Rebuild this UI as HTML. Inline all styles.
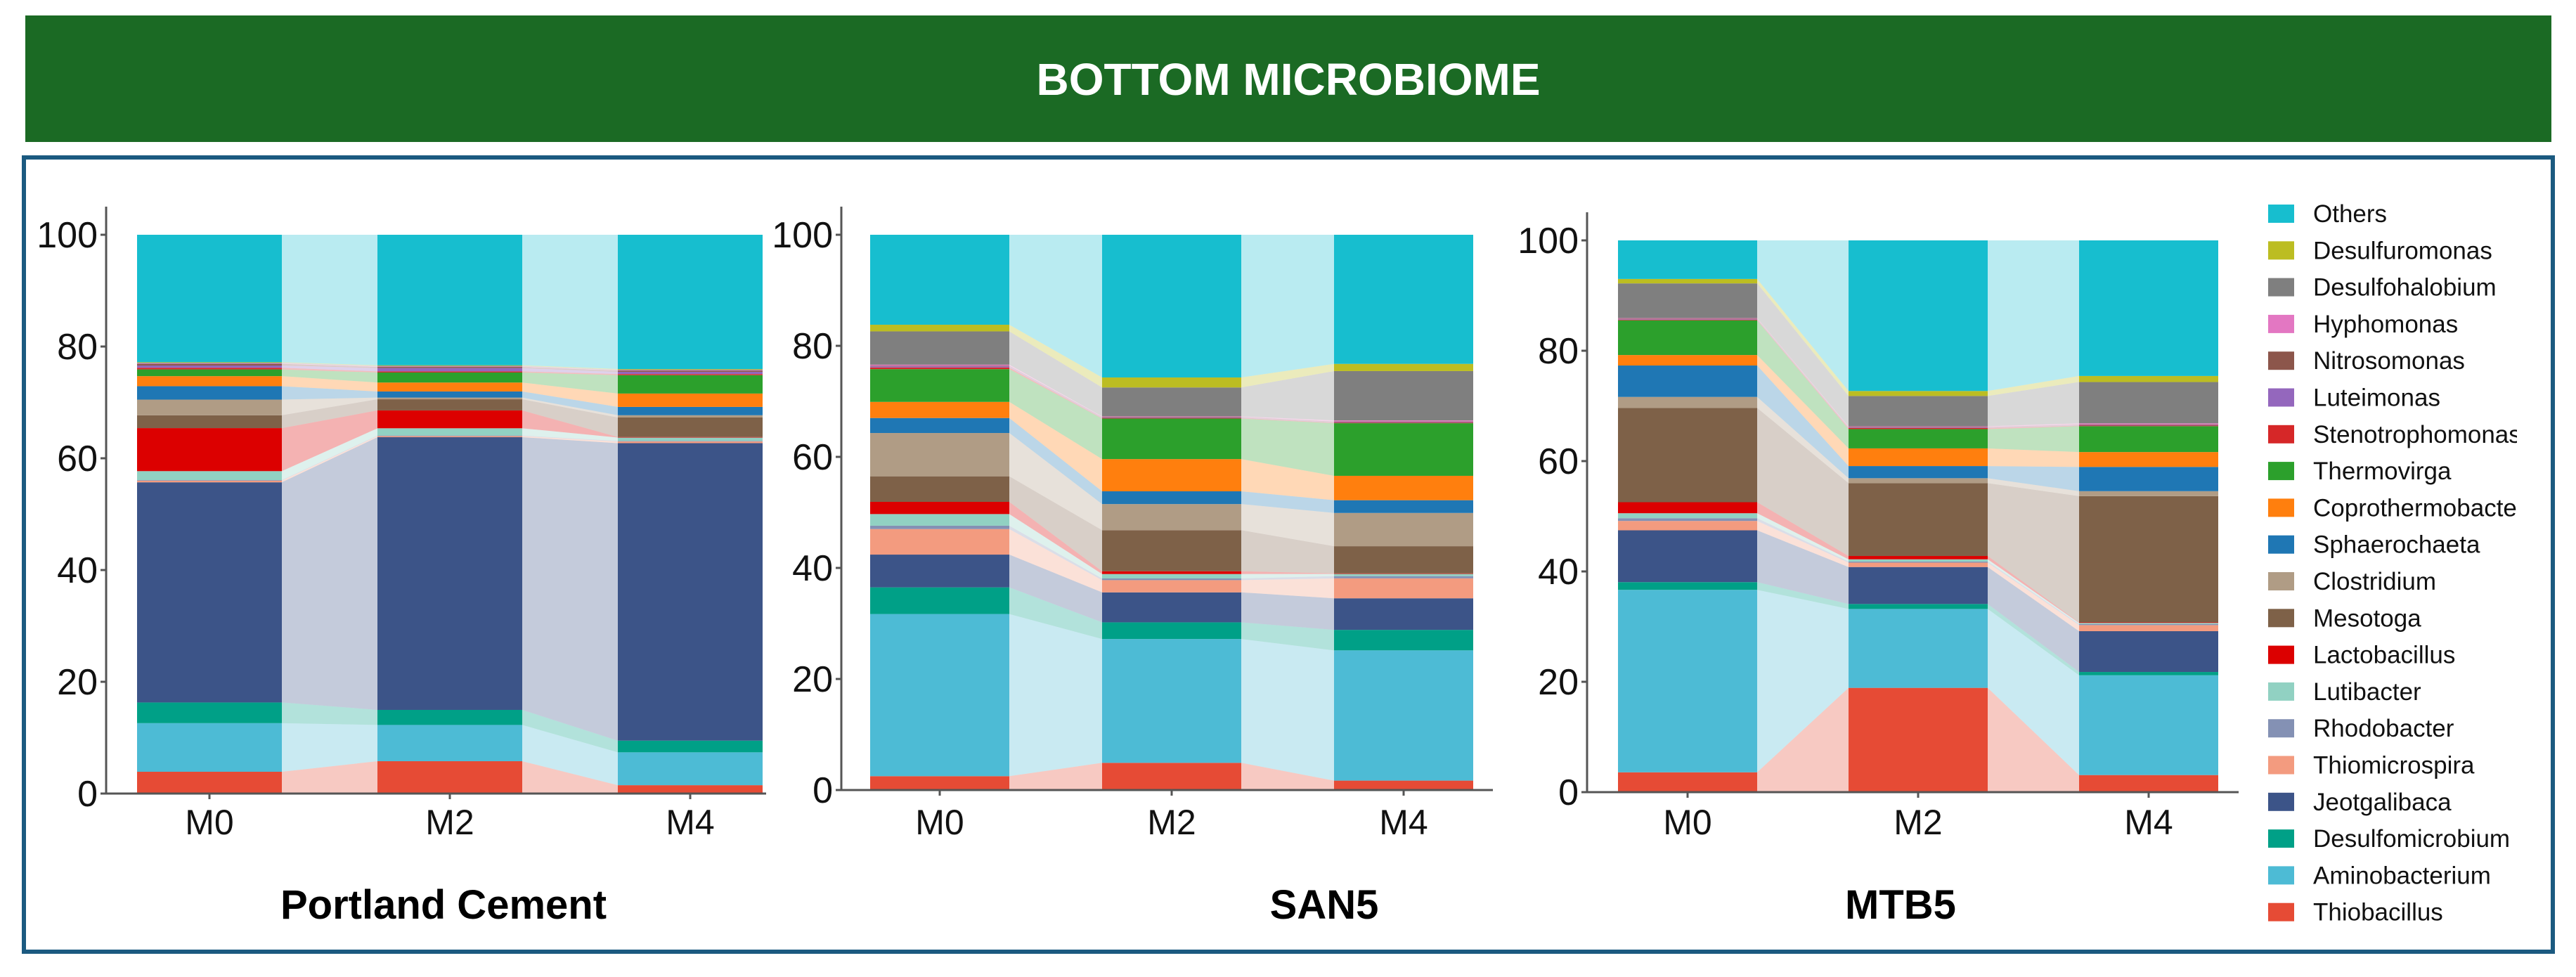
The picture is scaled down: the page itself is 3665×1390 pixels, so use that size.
<!DOCTYPE html>
<html><head><meta charset="utf-8"><style>
html,body{margin:0;padding:0;background:#fff;}
svg{display:block;}
</style></head><body>
<svg id="chart" xmlns="http://www.w3.org/2000/svg" width="3665" height="1390" viewBox="0 0 3665 1390" font-family="'Liberation Sans', Arial, sans-serif">
<rect x="36" y="22" width="3594" height="180" fill="#1b6a24"/>
<text x="1833" y="135" text-anchor="middle" font-size="64" font-weight="bold" fill="#fff">BOTTOM MICROBIOME</text>
<rect x="34" y="224" width="3598" height="1130" fill="none" stroke="#1b5a80" stroke-width="6"/>
<defs><clipPath id="legclip"><rect x="3210" y="240" width="371" height="1100"/></clipPath></defs>
<g id="plots"></g>
<g id="legend" clip-path="url(#legclip)"></g>
</svg>
<script>
const taxa = ["Thiobacillus","Aminobacterium","Desulfomicrobium","Jeotgalibaca","Thiomicrospira","Rhodobacter","Lutibacter","Lactobacillus","Mesotoga","Clostridium","Sphaerochaeta","Coprothermobacter","Thermovirga","Stenotrophomonas","Luteimonas","Nitrosomonas","Hyphomonas","Desulfohalobium","Desulfuromonas","Others"];
const colors = ["#E64B35","#4DBBD5","#00A087","#3C5488","#F39B7F","#8491B4","#91D1C2","#DC0000","#7E6148","#B09C85","#1F77B4","#FF7F0E","#2CA02C","#D62728","#9467BD","#8C564B","#E377C2","#7F7F7F","#BCBD22","#17BECF"];
const timepoints = ["M0","M2","M4"];
const yTicks = [0,20,40,60,80,100];
const panelNames = ["Portland Cement","SAN5","MTB5"];
// values per sample: bottom (Thiobacillus) to top (Others)
const portlandM0 = [3.9,8.7,3.7,39.4,0.3,0.1,1.6,7.7,2.3,2.8,2.4,1.8,1.2,0.3,0.4,0.3,0.1,0.1,0.1,22.8];
const portlandM2 = [5.8,6.5,2.7,48.9,0.2,0.1,1.3,3.2,2.0,0.3,1.1,1.6,1.8,0.2,0.6,0.2,0.1,0.1,0.1,23.4];
const portlandM4 = [1.5,5.9,2.1,53.4,0.3,0.1,0.6,0.1,3.5,0.4,1.5,2.4,3.3,0.2,0.4,0.2,0.1,0.1,0.1,24.1];
const san5M0 = [2.5,29.2,4.8,5.9,4.6,0.6,2.1,2.2,4.6,7.8,2.7,2.9,5.9,0.3,0.2,0.1,0.2,6.0,1.2,16.2];
const san5M2 = [4.9,22.3,3.0,5.4,2.2,0.3,0.8,0.5,7.4,4.7,2.3,5.8,7.3,0.1,0.1,0.1,0.1,5.2,1.8,25.7];
const san5M4 = [1.7,23.5,3.7,5.7,3.6,0.4,0.4,0.1,4.9,6.0,2.3,4.4,9.5,0.1,0.1,0.1,0.2,8.9,1.3,23.3];
const mtb5M0 = [3.6,33.1,1.4,9.4,1.7,0.5,0.9,2.0,17.1,2.0,5.7,1.9,6.3,0.1,0.1,0.1,0.1,6.3,0.8,7.0];
const mtb5M2 = [18.9,14.3,0.9,6.7,0.8,0.2,0.4,0.6,13.2,0.9,2.2,3.2,3.5,0.2,0.1,0.1,0.1,5.5,0.9,27.3];
const mtb5M4 = [3.1,18.1,0.6,7.4,1.1,0.2,0.2,0.1,22.9,0.9,4.4,2.7,4.7,0.1,0.1,0.1,0.2,7.5,1.1,24.6];

const NS = "http://www.w3.org/2000/svg";
const panelData = [[portlandM0,portlandM2,portlandM4],[san5M0,san5M2,san5M4],[mtb5M0,mtb5M2,mtb5M4]];
const layouts = [
 {ax:151, y0:1129, y100:334, top:294, c0:298, step:342, bw:206, xEnd:1090, title:631},
 {ax:1197, y0:1124, y100:334, top:294, c0:1337, step:330, bw:198, xEnd:2124, title:1884},
 {ax:2258, y0:1127, y100:342, top:302, c0:2401, step:328, bw:198, xEnd:3185, title:2704}
];
function mk(tag, attrs, parent){const e=document.createElementNS(NS,tag);for(const k in attrs)e.setAttribute(k,attrs[k]);parent.appendChild(e);return e;}
const root = document.getElementById('plots');
panelData.forEach((samples, pi) => {
  const L = layouts[pi];
  const g = mk('g', {}, root);
  
  
  const yS = v => L.y0 - (L.y0 - L.y100) * v / 100;
  const xC = i => L.c0 + L.step * i;
  const stacks = samples.map(s => {const tot = s.reduce((a,b)=>a+b,0); let c=0; return s.map(v => {const lo=c; c+=v*100/tot; return [lo,c];});});
  for (let i=0;i<samples.length-1;i++){
    taxa.forEach((t,k)=>{
      const a=stacks[i][k], b=stacks[i+1][k];
      const x1=xC(i)+L.bw/2, x2=xC(i+1)-L.bw/2;
      const p = mk('polygon', {points:`${x1},${yS(a[0])} ${x1},${yS(a[1])} ${x2},${yS(b[1])} ${x2},${yS(b[0])}`, fill:colors[k], 'fill-opacity':0.3}, g);
      
      
    });
  }
  samples.forEach((s,i)=>{
    taxa.forEach((t,k)=>{
      const [lo,hi]=stacks[i][k];
      const r = mk('rect', {x:xC(i)-L.bw/2, y:yS(hi), width:L.bw, height:Math.max(0,yS(lo)-yS(hi)), fill:colors[k]}, g);
      
      
    });
  });
  const ya = mk('line', {x1:L.ax, y1:L.top, x2:L.ax, y2:L.y0, stroke:'#555', 'stroke-width':3}, g);
  
  
  const xa = mk('line', {x1:L.ax-8, y1:L.y0, x2:L.xEnd, y2:L.y0, stroke:'#555', 'stroke-width':3}, g);
  
  
  yTicks.forEach(v=>{
    mk('line', {x1:L.ax-8, y1:yS(v), x2:L.ax, y2:yS(v), stroke:'#555', 'stroke-width':3}, g);
    const tx = mk('text', {x:L.ax-12, y:yS(v)+18, 'text-anchor':'end', 'font-size':52, fill:'#111'}, g);
    tx.textContent = v;
    
    
  });
  timepoints.forEach((tp,i)=>{
    mk('line', {x1:xC(i), y1:L.y0, x2:xC(i), y2:L.y0+8, stroke:'#555', 'stroke-width':3}, g);
    const tx = mk('text', {x:xC(i), y:1187, 'text-anchor':'middle', 'font-size':50, fill:'#111'}, g);
    tx.textContent = tp;
    
    
  });
  const tt = mk('text', {x:L.title, y:1307, 'text-anchor':'middle', 'font-size':58, 'font-weight':'bold', fill:'#000'}, g);
  tt.textContent = panelNames[pi];
  
  
});
const lg = document.getElementById('legend');
const order = taxa.map((t,i)=>i).reverse();
order.forEach((k,j)=>{
  const cy = 304 + j*52.3;
  const e = mk('g', {}, lg);
  
  
  mk('rect', {x:3227, y:cy-13, width:37, height:26, fill:colors[k]}, e);
  const tx = mk('text', {x:3291, y:cy+12, 'font-size':35, fill:'#111'}, e);
  tx.textContent = taxa[k];
});
</script>
</body></html>
